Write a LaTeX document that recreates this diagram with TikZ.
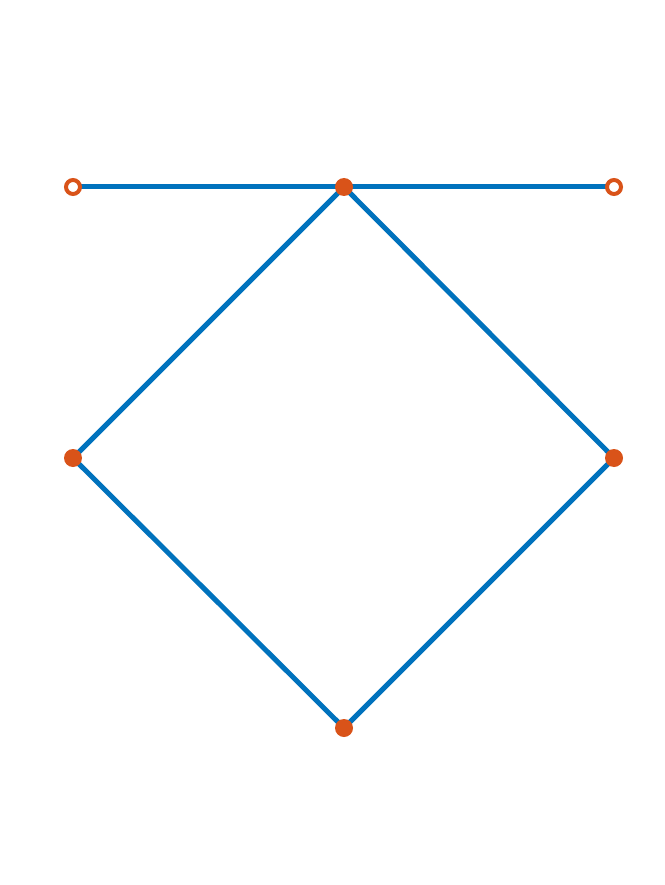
\documentclass[tikz,border=0pt]{standalone}
\usetikzlibrary{backgrounds}
\definecolor{mblue}{HTML}{0072BD}
\definecolor{morange}{HTML}{D95319}
\begin{document}
\begin{tikzpicture}[x=1pt,y=-1pt,
  edge/.style={draw=mblue,line width=5pt},
  fdot/.style={circle,fill=morange,minimum size=18pt,inner sep=0pt},
  odot/.style={circle,draw=morange,fill=white,line width=4pt,minimum size=14pt,inner sep=0pt}]
\useasboundingbox (0,0) rectangle (664,885);
\node[odot] (tl) at (73,187) {};
\node[odot] (tr) at (614,187) {};
\node[fdot] (t) at (344,187) {};
\node[fdot] (l) at (73,458) {};
\node[fdot] (r) at (614,458) {};
\node[fdot] (b) at (344,728) {};
\begin{scope}[on background layer]
\draw[edge] (tl.center) -- (t.center) -- (tr.center);
\draw[edge] (t.center) -- (l.center) -- (b.center) -- (r.center) -- (t.center);
\end{scope}
\end{tikzpicture}
\end{document}
